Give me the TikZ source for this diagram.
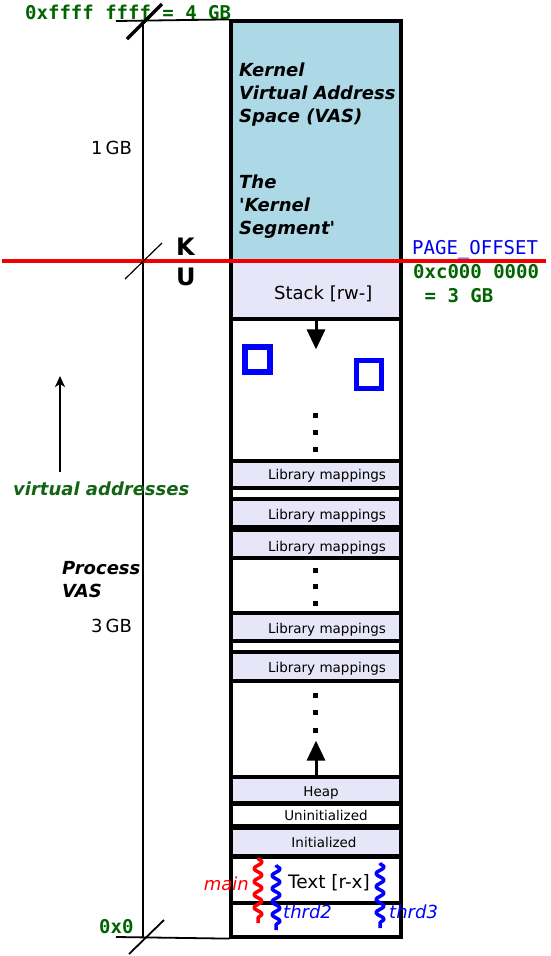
\documentclass[tikz,border=0pt]{standalone}
\usepackage{fontspec}
\setmainfont{DejaVu Sans}
\setmonofont{DejaVu Sans Mono}
\usepackage{xcolor}
\usetikzlibrary{positioning,arrows.meta,decorations.pathmorphing}
\definecolor{kblue}{RGB}{173,216,230}
\definecolor{seglav}{RGB}{230,230,248}
\definecolor{addrgreen}{RGB}{0,100,0}
\definecolor{vagreen}{RGB}{20,100,20}
\definecolor{offblue}{RGB}{0,0,230}
\definecolor{splitred}{RGB}{240,0,0}
\tikzset{
  seg/.style={rectangle, draw=black, fill=white, line width=3.2pt, minimum width=170pt, inner sep=0pt},
  lavseg/.style={seg, fill=seglav},
  smalllbl/.style={font=\fontsize{13.5}{15}\selectfont, inner sep=0pt, anchor=base},
  biglbl/.style={font=\fontsize{18}{23}\selectfont, inner sep=0pt, anchor=base west, align=left},
  bigit/.style={biglbl, font=\fontsize{18}{23}\selectfont\bfseries\itshape},
  addr/.style={font=\fontsize{19}{24}\selectfont\ttfamily\bfseries, text=addrgreen, inner sep=0pt, anchor=base west, align=left},
  dot/.style={rectangle, fill=black, minimum size=5pt, inner sep=0pt},
  vmbox/.style={rectangle, draw=blue, line width=5.5pt, fill=white, minimum size=25pt, inner sep=0pt},
  growarrow/.style={line width=3pt, -{Triangle[width=18pt,length=20pt]}},
  thread/.style={line width=3.5pt, line join=round, decorate, decoration={snake, amplitude=4pt, segment length=13pt}},
  thrdlbl/.style={font=\fontsize{18}{20}\selectfont\itshape, inner sep=0pt}
}
\begin{document}
\begin{tikzpicture}[x=1pt, y=-1pt]
  \useasboundingbox (0,0) rectangle (550,956);

  % Address axis
  \coordinate (axtop) at (143,21);
  \coordinate (axbot) at (143,937);
  \draw[line width=1.8pt] (axtop) -- (axbot);

  % Kernel segment (upper 1 GB)
  \node[seg, fill=kblue, minimum height=240pt] (kernel) at (316,141) {};
  \node[bigit] (ktxt1) at (239,122) {Kernel\\Virtual Address\\Space (VAS)};
  \node[bigit] (ktxt2) at (239,234) {The\\\textquotesingle Kernel\\Segment\textquotesingle};

  % User segments, top to bottom
  \node[lavseg, minimum height=58pt] (stack) at (316,290) {};
  \node[seg, minimum height=142pt] (gap1) at (316,390) {};
  \node[lavseg, minimum height=27pt] (lib1) at (316,474.5) {};
  \node[seg, minimum height=11pt] (gap2) at (316,493.5) {};
  \node[lavseg, minimum height=28pt] (lib2) at (316,513) {};
  \node[lavseg, minimum height=28pt] (lib3) at (316,544) {};
  \node[seg, minimum height=55pt] (gap4) at (316,585.5) {};
  \node[lavseg, minimum height=28pt] (lib4) at (316,627) {};
  \node[seg, minimum height=11pt] (gap5) at (316,646.5) {};
  \node[lavseg, minimum height=29pt] (lib5) at (316,666.5) {};
  \node[seg, minimum height=96pt] (gap6) at (316,729) {};
  \node[lavseg, minimum height=26pt] (heap) at (316,790) {};
  \node[seg, minimum height=22pt] (bss) at (316,815) {};
  \node[lavseg, minimum height=28pt] (data) at (316,842) {};
  \node[seg, minimum height=46pt] (text) at (316,880) {};
  \node[seg, minimum height=34pt] (low) at (316,920) {};

  % Segment labels
  \node[biglbl] (stacklbl) at (274,299) {Stack [rw-]};
  \foreach \n/\y in {1/479, 2/519, 3/551, 4/633, 5/672}
    \node[smalllbl] (liblbl\n) at (327,\y) {Library mappings};
  \node[smalllbl] (heaplbl) at (321,796) {Heap};
  \node[smalllbl] (bsslbl) at (326,820) {Uninitialized};
  \node[smalllbl] (datalbl) at (324,847) {Initialized};
  \node[smalllbl, font=\fontsize{18.5}{20}\selectfont] (textlbl) at (329,888) {Text [r-x]};

  % Growth arrows
  \draw[growarrow] (gap1.north) -- ([yshift=-32pt]gap1.north);
  \draw[growarrow] (gap6.south) -- ([yshift=38pt]gap6.south);

  % Dots
  \foreach \y in {415,432,449,570,586,603,695,712,730}
    \node[dot] (d\y) at (315,\y) {};

  % Mapped regions
  \node[vmbox] (vm1) at (257.5,359.5) {};
  \node[vmbox, minimum height=28pt] (vm2) at (369,374.5) {};

  % Threads
  \draw[thread, red] (258,858) -- (258,923);
  \draw[thread, blue] (276,865) -- (276,930);
  \draw[thread, blue] (380,863) -- (380,928);
  \node[thrdlbl, text=red, anchor=base east] (mainlbl) at (249,890) {main};
  \node[thrdlbl, text=blue, anchor=base west] (t2lbl) at (283,918) {thrd2};
  \node[thrdlbl, text=blue, anchor=base west] (t3lbl) at (389,918) {thrd3};

  % Axis ticks and labels
  \node[addr] (toplbl) at (25,19) {0xffff ffff = 4 GB};
  \draw[line width=1.8pt] (116,21) -- (kernel.north west);
  \draw[line width=3.2pt] (127,39) -- (162,4);
  \node[addr] (zerolbl) at (99,933) {0x0};
  \draw[line width=1.8pt] (116,937) -- (low.south west);
  \draw[line width=1.8pt] (129,954) -- (164,920);
  \node[biglbl] (gb1) at (91,154) {1\,GB};
  \node[biglbl] (gb3) at (91,632) {3\,GB};
  \node[bigit] (pvas) at (62,597) {Process\\VAS};
  \node[bigit, text=vagreen] (va) at (13,495) {virtual addresses};
  \coordinate (vabase) at (60,472);
  \coordinate (vatip) at (60,376);
  \draw[line width=2.4pt, -{Stealth[length=11pt,width=10pt,inset=3pt]}] (vabase) -- (vatip);

  % Kernel / user split
  \draw[line width=4pt, splitred] (2,261) -- (546,261);
  \draw[line width=1.2pt] (125,279) -- (162,243);
  \node[biglbl, font=\fontsize{24}{28}\selectfont\bfseries] (klbl) at (176,255) {K};
  \node[biglbl, font=\fontsize{24}{28}\selectfont\bfseries] (ulbl) at (176,285) {U};
  \node[addr, font=\fontsize{19}{24}\selectfont\ttfamily, text=offblue] (poff) at (412,254) {PAGE\_OFFSET};
  \node[addr] (kaddr) at (413,302) {0xc000 0000\\\ = 3 GB};
\end{tikzpicture}
\end{document}
